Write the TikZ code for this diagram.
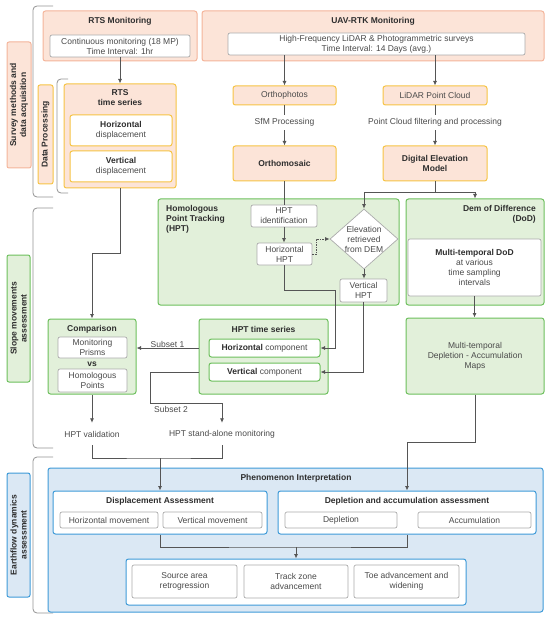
\documentclass[tikz,border=0pt]{standalone}
\usepackage{fontspec}
\setmainfont{Liberation Sans}
\usetikzlibrary{shapes.geometric,arrows.meta}

\definecolor{pinkfill}{HTML}{FCE4D8}
\definecolor{orangeline}{HTML}{F4B49A}
\definecolor{yellowline}{HTML}{F6C343}
\definecolor{greenfill}{HTML}{E2F0DA}
\definecolor{greenline}{HTML}{6CBF5C}
\definecolor{bluefill}{HTML}{DBE8F4}
\definecolor{blueline}{HTML}{3D9AD8}
\definecolor{grayline}{HTML}{ABABAB}
\definecolor{linegray}{HTML}{555555}
\definecolor{textgray}{HTML}{4A4A4A}
\definecolor{titlegray}{HTML}{2E2E2E}

\newcommand{\bftxt}[1]{\textcolor{titlegray}{\textbf{#1}}}

\tikzset{
  basetext/.style={font=\fontsize{8.5}{10}\selectfont, text=textgray, align=center, inner sep=0pt},
  sz/.style 2 args={minimum width=#1, minimum height=#2},
  box/.style={basetext, rounded corners=2.5pt, line width=1pt},
  pinkbox/.style={box, draw=orangeline, fill=pinkfill},
  yellowbox/.style={box, draw=yellowline, fill=pinkfill},
  greenbox/.style={box, draw=greenline, fill=greenfill},
  bluebox/.style={box, draw=blueline, fill=bluefill},
  yellowin/.style={box, draw=yellowline, fill=white},
  greenin/.style={box, draw=greenline, fill=white},
  bluein/.style={box, draw=blueline, fill=white},
  graybox/.style={basetext, rounded corners=2pt, draw=grayline, fill=white, line width=0.7pt},
  boxtitle/.style={basetext, font=\fontsize{8.5}{10}\selectfont\bfseries, text=titlegray},
  sidelabel/.style={boxtitle, rotate=90, rounded corners=2pt, line width=1pt},
  conn/.style={draw=linegray, line width=0.8pt},
  arr/.style={conn, -{Latex[length=4.5pt,width=4pt]}},
  bracket/.style={draw=gray!85, line width=0.8pt, rounded corners=4pt},
}

\begin{document}
\begin{tikzpicture}[x=1pt, y=-1pt]
    \useasboundingbox (0,0) rectangle (550,620);

    % stage labels and brackets
    \node[sidelabel, draw=orangeline, fill=pinkfill, sz={126}{24}] (survey) at (19,105) {Survey methods and\\data acquisition};
    \node[sidelabel, draw=yellowline, fill=pinkfill, sz={99}{15}] (dataproc) at (45.5,134.5) {Data Processing};
    \node[sidelabel, draw=greenline, fill=greenfill, sz={127}{23}] (slope) at (18.5,318.5) {Slope movements\\assessment};
    \node[sidelabel, draw=blueline, fill=bluefill, sz={124}{23}] (earth) at (18.5,535) {Earthflow dynamics\\assessment};

    \draw[bracket] (53,6) -- (33,6) -- (33,197) -- (53,197);
    \draw[bracket] (68,79) -- (57,79) -- (57,193) -- (68,193);
    \draw[bracket] (53,208) -- (33,208) -- (33,448) -- (53,448);
    \draw[bracket] (53,457) -- (33,457) -- (33,613) -- (53,613);

    % survey methods
    \node[pinkbox, sz={154}{50}] (rts) at (120,36) {};
    \node[boxtitle] (rtstitle) at (120,21) {RTS Monitoring};
    \node[graybox, sz={140}{22}] (rtsin) at (120,46) {Continuous monitoring (18 MP)\\Time Interval: 1hr};
    \node[pinkbox, sz={342}{50}] (uav) at (373,36) {};
    \node[boxtitle] (uavtitle) at (373,21) {UAV-RTK Monitoring};
    \node[graybox, sz={297}{22}] (uavin) at (376.5,44) {High-Frequency LiDAR \& Photogrammetric surveys\\Time Interval: 14 Days (avg.)};

    % data processing
    \node[yellowbox, sz={112}{104}] (rtsts) at (120,136) {};
    \node[boxtitle] (rtststitle) at (120,98) {RTS\\time series};
    \node[yellowin, sz={102}{31}] (hordisp) at (121,130.5) {\bftxt{Horizontal}\\displacement};
    \node[yellowin, sz={102}{31}] (verdisp) at (121,166.5) {\bftxt{Vertical}\\displacement};
    \node[yellowbox, sz={103}{19}] (ortho) at (284.5,95.5) {Orthophotos};
    \node[yellowbox, sz={104}{19}] (lidar) at (435,95.5) {LiDAR Point Cloud};
    \node[basetext, sz={60}{15}] (sfm) at (284.5,122.5) {SfM Processing};
    \node[basetext, sz={60}{15}] (pcf) at (435,122.5) {Point Cloud filtering and processing};
    \node[yellowbox, sz={103}{35}] (mosaic) at (284.5,163.5) {\bftxt{Orthomosaic}};
    \node[yellowbox, sz={104}{35}] (demodel) at (435,163.5) {\bftxt{Digital Elevation}\\\bftxt{Model}};

    % slope movements
    \node[greenbox, sz={241}{106}] (hpt) at (278.5,252) {};
    \node[boxtitle, anchor=north west, align=left] (hpttitle) at (166,205) {Homologous\\Point Tracking\\(HPT)};
    \node[graybox, sz={66}{22}] (hptid) at (284,216) {HPT\\identification};
    \node[graybox, sz={55}{22}] (horhpt) at (284.5,254) {Horizontal\\HPT};
    \node[diamond, draw=grayline, fill=white, line width=0.7pt, sz={68}{60}, inner sep=0pt] (elev) at (364,239) {};
    \node[basetext] (elevtext) at (364,239) {Elevation\\retrieved\\from DEM};
    \node[graybox, sz={47}{23}] (verhpt) at (363.5,290.5) {Vertical\\HPT};

    \node[greenbox, sz={129}{75}] (hptts) at (263.5,356.5) {};
    \node[boxtitle] (hpttstitle) at (263.5,329) {HPT time series};
    \node[greenin, sz={111}{18}] (horcomp) at (264.5,348) {\bftxt{Horizontal} component};
    \node[greenin, sz={111}{18}] (vercomp) at (264.5,372) {\bftxt{Vertical} component};

    \node[greenbox, sz={88}{75}] (comp) at (92,356.5) {};
    \node[boxtitle] (comptitle) at (92,329) {Comparison};
    \node[graybox, sz={69}{21}] (prisms) at (92.5,347.5) {Monitoring\\Prisms};
    \node[boxtitle] (vs) at (92,364) {vs};
    \node[graybox, sz={69}{23}] (hompts) at (92.5,380.5) {Homologous\\Points};

    \node[basetext, sz={60}{22}] (hptval) at (92,434) {HPT validation};
    \node[basetext, sz={60}{22}] (hptsa) at (222,434) {HPT stand-alone monitoring};
    \node[basetext] (sub2) at (171,409.5) {Subset 2};

    \node[greenbox, sz={138}{106}] (dod) at (475,252) {};
    \node[boxtitle, anchor=north east, align=right] (dodtitle) at (536,205) {Dem of Difference\\(DoD)};
    \node[graybox, sz={133}{57}] (dodin) at (474.5,267.5) {\bftxt{Multi-temporal DoD}\\at various\\time sampling\\intervals};
    \node[greenbox, sz={138}{76}] (maps) at (475,356) {Multi-temporal\\Depletion - Accumulation\\Maps};

    % earthflow dynamics
    \node[bluebox, sz={495}{144}] (phen) at (295.5,540) {};
    \node[boxtitle] (phentitle) at (296,478) {Phenomenon Interpretation};
    \node[bluein, sz={214}{43}] (disp) at (160,512.5) {};
    \node[boxtitle] (disptitle) at (160,501) {Displacement Assessment};
    \node[graybox, sz={98}{16}] (hormov) at (109,520) {Horizontal movement};
    \node[graybox, sz={99}{16}] (vermov) at (212.5,520) {Vertical movement};
    \node[bluein, sz={258}{43}] (depl) at (407,512.5) {};
    \node[boxtitle] (depltitle) at (407,501) {Depletion and accumulation assessment};
    \node[graybox, sz={112}{16}] (deplbox) at (341,520) {Depletion};
    \node[graybox, sz={113}{16}] (accbox) at (474.5,520) {Accumulation};
    \node[bluein, sz={340}{46}] (effects) at (296,582) {};
    \node[graybox, sz={105}{33}] (source) at (184.5,581.5) {Source area\\retrogression};
    \node[graybox, sz={104}{33}] (track) at (296,581.5) {Track zone\\advancement};
    \node[graybox, sz={105}{33}] (toe) at (406.5,581.5) {Toe advancement and\\widening};

    % connectors
    \draw[arr] (rtsin.south) -- (rtsts.north);
    \draw[arr] (ortho.north |- uavin.south) -- (ortho.north);
    \draw[arr] (lidar.north |- uavin.south) -- (lidar.north);
    \draw[conn] (ortho) -- (sfm);
    \draw[arr] (sfm) -- (mosaic);
    \draw[conn] (lidar) -- (pcf);
    \draw[arr] (pcf) -- (demodel);
    \draw[conn] (mosaic.south) -- (mosaic.south |- hptid.north);

    \coordinate (split) at (435,192);
    \draw[conn] (demodel.south) -- (split);
    \draw[arr] (split) -| (elev.north);
    \draw[arr] (split) -| (dod.north);

    \draw[arr] (hptid.south) -- (hptid.south |- horhpt.north);
    \draw[arr, dash pattern=on 1.5pt off 1pt] (horhpt.east) -- ++(4,0) |- (elev.west);
    \draw[arr] (elev.south) -- (elev.south |- verhpt.north);
    \draw[arr] (horhpt.south) |- (335,290) |- (horcomp.east);
    \draw[arr] (verhpt.south) |- (vercomp.east);

    \draw[arr] (hptts.west |- horcomp) -- (comp.east |- horcomp) node[midway, above, basetext] {Subset 1};
    \draw[arr] (hptts.west |- vercomp) -| (150,403) -| (hptsa.north);
    \draw[arr] (rtsts.south) -- ++(0,65) -| (comp.north);
    \draw[arr] (comp.south) -- (hptval.north);

    \coordinate (merge1) at (160,458);
    \draw[conn] (hptval.south) |- (merge1) -| (hptsa.south);
    \draw[arr] (merge1) -- (disp.north);

    \draw[arr] (dodin.south) -- (dodin.south |- maps.north);
    \draw[arr] (maps.south) -- ++(0,48) -| (depl.north);

    \coordinate (merge2) at (296,547);
    \draw[conn] (disp.south) |- (merge2) -| (depl.south);
    \draw[arr] (merge2) -- (effects.north);
\end{tikzpicture}
\end{document}
